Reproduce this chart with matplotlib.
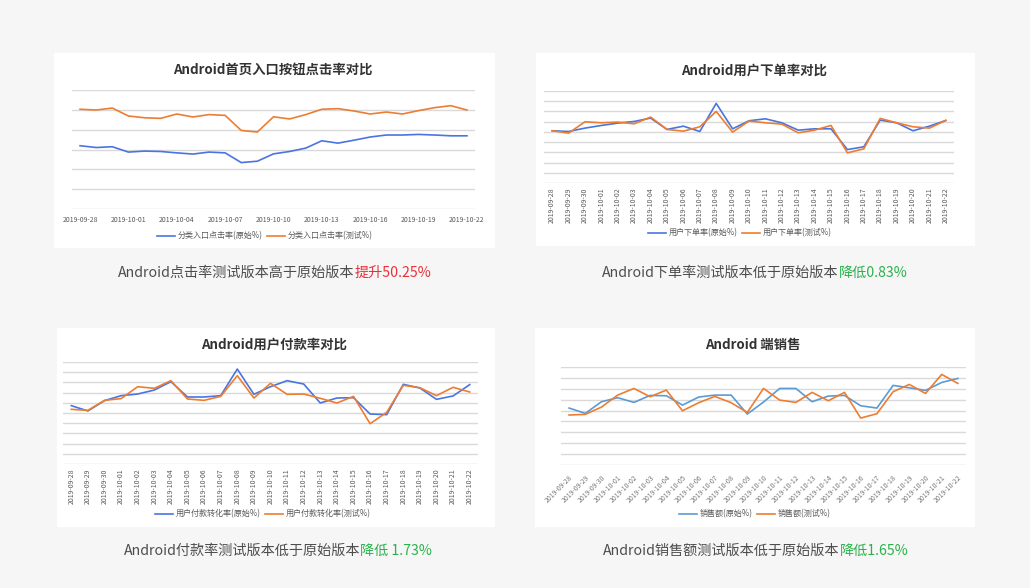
import matplotlib
matplotlib.use("Agg")
import matplotlib.pyplot as plt
from matplotlib.patches import Rectangle

plt.rcParams['font.family'] = ['Noto Sans CJK SC', 'DejaVu Sans']

W, H = 1030, 588

dates = ["2019-09-28", "2019-09-29", "2019-09-30", "2019-10-01", "2019-10-02",
         "2019-10-03", "2019-10-04", "2019-10-05", "2019-10-06", "2019-10-07",
         "2019-10-08", "2019-10-09", "2019-10-10", "2019-10-11", "2019-10-12",
         "2019-10-13", "2019-10-14", "2019-10-15", "2019-10-16", "2019-10-17",
         "2019-10-18", "2019-10-19", "2019-10-20", "2019-10-21", "2019-10-22"]

# Chart 1: click rate
click_orig = [3.19, 3.10, 3.14, 2.87, 2.92, 2.90, 2.83, 2.77, 2.87, 2.83, 2.34, 2.41, 2.78,
              2.90, 3.07, 3.44, 3.32, 3.47, 3.63, 3.73, 3.73, 3.76, 3.73, 3.69, 3.69]
click_test = [5.03, 4.99, 5.09, 4.69, 4.60, 4.57, 4.79, 4.64, 4.76, 4.72, 3.96, 3.88, 4.65,
              4.54, 4.76, 5.03, 5.06, 4.94, 4.79, 4.89, 4.79, 4.96, 5.11, 5.21, 4.99]

# Chart 2: order rate
order_orig = [5.11, 5.04, 5.37, 5.63, 5.86, 6.02, 6.35, 5.24, 5.56, 5.04, 7.79, 5.30, 6.09,
              6.28, 5.89, 5.17, 5.30, 5.30, 3.27, 3.54, 6.15, 5.89, 5.11, 5.56, 6.12]
order_test = [5.11, 4.88, 5.99, 5.89, 5.96, 5.79, 6.45, 5.24, 5.07, 5.50, 7.00, 4.98, 6.06,
              5.89, 5.76, 4.91, 5.17, 5.63, 2.95, 3.34, 6.32, 5.89, 5.50, 5.37, 6.12]

# Chart 3: payment rate
pay_orig = [5.72, 5.20, 6.21, 6.70, 6.86, 7.25, 8.07, 6.57, 6.57, 6.70, 9.31, 6.83, 7.58,
            8.17, 7.84, 5.98, 6.47, 6.50, 4.90, 4.84, 7.81, 7.45, 6.34, 6.67, 7.78]
pay_test = [5.36, 5.26, 6.24, 6.41, 7.58, 7.42, 8.17, 6.37, 6.24, 6.63, 8.66, 6.47, 7.91,
            6.83, 6.86, 6.44, 5.98, 6.63, 3.95, 5.07, 7.71, 7.48, 6.70, 7.52, 7.06]

# Chart 4: sales
sales_orig = [5.23, 4.74, 5.81, 6.18, 5.75, 6.39, 6.36, 5.50, 6.24, 6.42, 6.42, 4.68, 5.78,
              7.03, 7.03, 5.81, 6.33, 6.39, 5.44, 5.23, 7.31, 7.09, 6.85, 7.58, 7.95]
sales_test = [4.59, 4.65, 5.32, 6.42, 7.03, 6.27, 6.88, 4.98, 5.72, 6.30, 5.72, 4.83, 7.03,
              5.96, 5.75, 6.67, 5.90, 6.67, 4.31, 4.71, 6.73, 7.40, 6.57, 8.32, 7.49]

titles = ["Android首页入口按钮点击率对比", "Android用户下单率对比",
          "Android用户付款率对比", "Android 端销售"]
legend_labels = [("分类入口点击率(原始%)", "分类入口点击率(测试%)"),
                 ("用户下单率(原始%)", "用户下单率(测试%)"),
                 ("用户付款转化率(原始%)", "用户付款转化率(测试%)"),
                 ("销售额(原始%)", "销售额(测试%)")]
captions = [("Android点击率测试版本高于原始版本", "提升50.25%"),
            ("Android下单率测试版本低于原始版本", "降低0.83%"),
            ("Android付款率测试版本低于原始版本", "降低 1.73%"),
            ("Android销售额测试版本低于原始版本", "降低1.65%")]

RED = "#e8313b"
GREEN = "#2bb24c"
BLUE = "#4a74e0"
BLUE2 = "#5b9bd5"
ORANGE = "#ed7d31"

fig = plt.figure(figsize=(W / 100, H / 100), dpi=100)
fig.patch.set_facecolor("#f6f6f6")


def fx(x):
    return x / W


def fy(y):
    return 1 - y / H


def card(x0, y0, x1, y1):
    fig.patches.append(Rectangle((fx(x0), fy(y1)), fx(x1) - fx(x0), fy(y0) - fy(y1),
                                 transform=fig.transFigure, facecolor="white",
                                 edgecolor="none", zorder=-5))


cards = [(54, 53, 495, 248), (536, 53, 975, 246), (57, 328, 495, 527), (535, 328, 975, 527)]
for c in cards:
    card(*c)

# (x_left, x_right, y_top, y_bottom, n_grid_units)
axes_px = [(72, 475, 90, 209, 6), (544, 954, 91, 183, 9),
           (63, 478, 362, 464, 10), (561, 966, 367, 465, 9)]
series = [(click_orig, click_test), (order_orig, order_test),
          (pay_orig, pay_test), (sales_orig, sales_test)]
colors = [(BLUE, ORANGE), (BLUE, ORANGE), (BLUE, ORANGE), (BLUE2, ORANGE)]
title_pos = [(273, 70), (754, 71), (274, 345), (753, 345)]
legend_pos = [(265, 236), (740, 233), (263, 514), (755, 514)]
caption_pos = [(275, 273), (755, 273), (278, 551), (756, 551)]

x = list(range(len(dates)))
for i in range(4):
    xl, xr, yt, yb, n = axes_px[i]
    ax = fig.add_axes([fx(xl), fy(yb), fx(xr) - fx(xl), fy(yt) - fy(yb)])
    ax.set_facecolor("none")
    ax.set_xlim(-0.5, len(dates) - 0.5)
    ax.set_ylim(0, n)
    ax.set_yticks(range(n + 1))
    ax.yaxis.grid(True, color="#d9d9d9", linewidth=1.0)
    ax.set_axisbelow(True)
    for s in ax.spines.values():
        s.set_visible(False)
    ax.tick_params(axis="both", length=0)
    ax.set_yticklabels([])
    o, t = series[i]
    c1, c2 = colors[i]
    l1, = ax.plot(x, o, color=c1, linewidth=1.2, label=legend_labels[i][0])
    l2, = ax.plot(x, t, color=c2, linewidth=1.2, label=legend_labels[i][1])
    if i == 0:
        ax.set_xticks(x[::3])
        ax.set_xticklabels(dates[::3], fontsize=5, color="#595959")
        ax.tick_params(axis="x", pad=5)
    elif i in (1, 2):
        ax.set_xticks(x)
        ax.set_xticklabels(dates, fontsize=5, color="#595959", rotation=90)
        ax.tick_params(axis="x", pad=3)
    else:
        ax.set_xticks(x)
        ax.set_xticklabels(dates, fontsize=5, color="#7a7a7a", rotation=45,
                           ha="right", rotation_mode="anchor")
        ax.tick_params(axis="x", pad=6)
    tx, ty = title_pos[i]
    fig.text(fx(tx), fy(ty), titles[i], ha="center", va="center", fontsize=9.6,
             fontweight="bold", color="#333333")
    lx, ly = legend_pos[i]
    fig.legend(handles=[l1, l2], loc="center", bbox_to_anchor=(fx(lx), fy(ly)),
               ncol=2, frameon=False, fontsize=5.8, handlelength=2.2,
               columnspacing=0.6, handletextpad=0.3, labelcolor="#595959")

# captions
fig.canvas.draw()
renderer = fig.canvas.get_renderer()
for i in range(4):
    cx, cy = caption_pos[i]
    main, hl = captions[i]
    col = RED if i == 0 else GREEN
    t1 = fig.text(0, fy(cy), main, ha="left", va="center", fontsize=10.2,
                  color="#4d4d4d", fontweight="medium")
    t2 = fig.text(0, fy(cy), hl, ha="left", va="center", fontsize=10.2, color=col,
                  fontweight="medium")
    w1 = t1.get_window_extent(renderer).width
    w2 = t2.get_window_extent(renderer).width
    start = cx - (w1 + w2) / 2
    t1.set_x(fx(start))
    t2.set_x(fx(start + w1))

fig.savefig("out.png", dpi=100, facecolor=fig.get_facecolor())
